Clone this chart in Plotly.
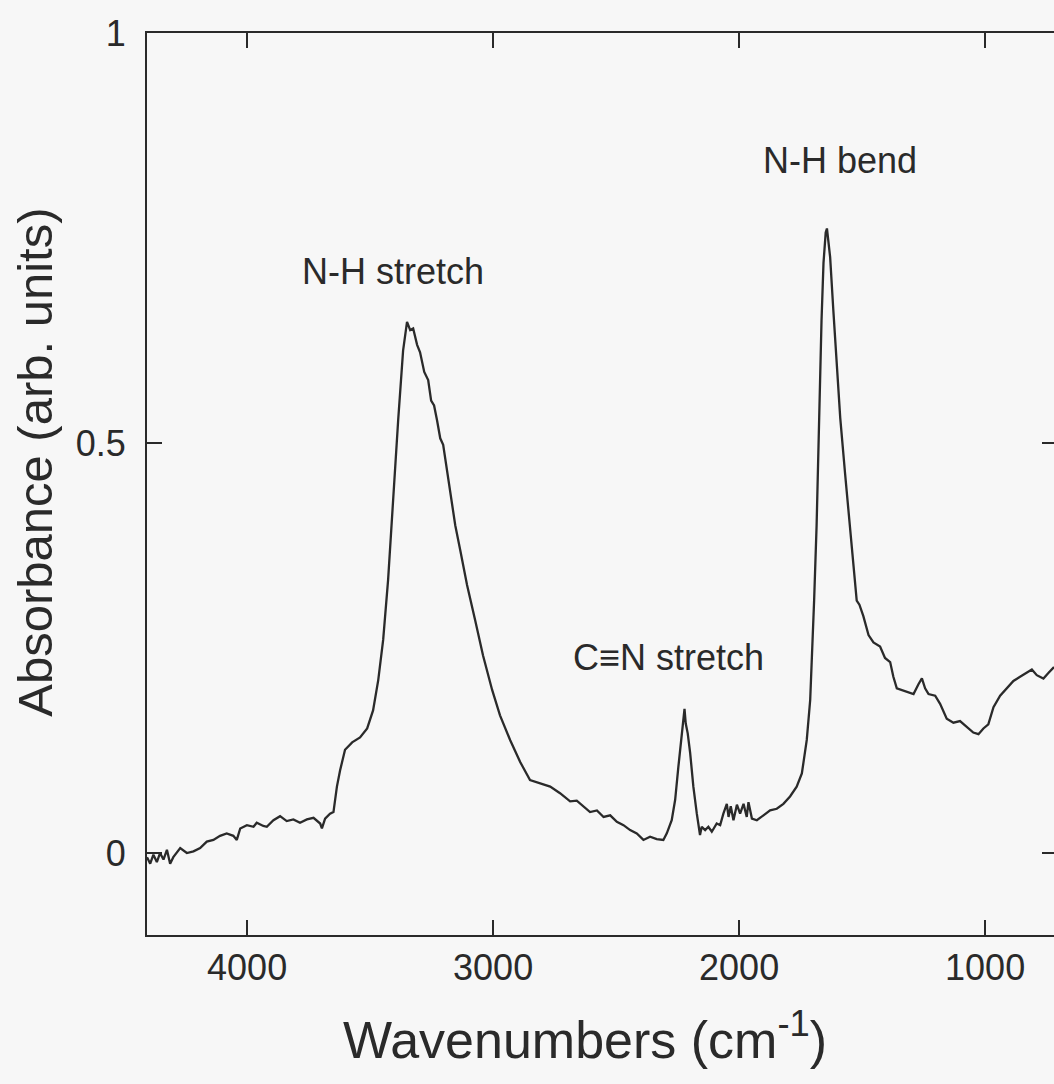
import plotly.graph_objects as go

# Wavenumbers (cm-1), descending
wavenumber = [
    4407, 4394, 4381, 4367, 4354, 4340, 4326, 4313, 4300, 4272, 4245, 4218, 4191,
    4164, 4137, 4110, 4083, 4056, 4042, 4028, 4001, 3974, 3961, 3934, 3920, 3893,
    3866, 3839, 3812, 3785, 3757, 3730, 3703, 3696, 3683, 3663, 3649, 3642, 3635,
    3622, 3602, 3573, 3541, 3512, 3488, 3467, 3447, 3427, 3407, 3386, 3366, 3350,
    3337, 3325, 3309, 3297, 3280, 3264, 3252, 3240, 3228, 3215, 3203, 3191, 3175,
    3154, 3134, 3106, 3073, 3041, 3004, 2972, 2931, 2890, 2850,
    2768, 2728, 2687, 2660, 2633, 2606, 2578, 2551, 2524, 2497, 2470, 2443, 2416,
    2389, 2362, 2335, 2308, 2294, 2274, 2260, 2247, 2236, 2226, 2222, 2217, 2209,
    2199, 2186, 2172, 2159, 2152, 2138, 2125, 2111, 2091, 2077, 2064, 2050, 2043,
    2034, 2023, 2009, 1996, 1982, 1969, 1962, 1948, 1928, 1901, 1874, 1847, 1820,
    1793, 1766, 1745, 1725, 1711, 1702, 1695, 1685, 1675, 1665, 1657, 1648, 1643,
    1637, 1630, 1617, 1603, 1589, 1569, 1549, 1535, 1522, 1511, 1495, 1474, 1454,
    1427, 1407, 1386, 1373, 1359, 1339, 1318, 1291, 1271, 1257, 1244, 1230, 1203,
    1183, 1156, 1129, 1102, 1074, 1048, 1027, 1007, 987, 966, 939, 912, 885, 858,
    831, 810, 790, 763, 742, 720,
]

absorbance = [
    -0.005, -0.013, -0.002, -0.011, 0.000, -0.008, 0.004, -0.013, -0.005, 0.006, 0.000, 0.002, 0.006,
    0.014, 0.016, 0.021, 0.024, 0.021, 0.016, 0.030, 0.034, 0.032, 0.037, 0.033, 0.032, 0.040,
    0.045, 0.039, 0.041, 0.037, 0.041, 0.043, 0.036, 0.030, 0.042, 0.048, 0.050, 0.065, 0.081,
    0.101, 0.126, 0.135, 0.141, 0.152, 0.174, 0.211, 0.260, 0.333, 0.430, 0.528, 0.613, 0.648,
    0.638, 0.640, 0.620, 0.611, 0.587, 0.577, 0.552, 0.546, 0.528, 0.506, 0.498, 0.473, 0.443,
    0.400, 0.370, 0.327, 0.284, 0.241, 0.199, 0.168, 0.138, 0.111, 0.089,
    0.081, 0.073, 0.063, 0.064, 0.057, 0.050, 0.052, 0.044, 0.046, 0.038, 0.034, 0.028, 0.024,
    0.016, 0.020, 0.017, 0.016, 0.024, 0.040, 0.065, 0.105, 0.138, 0.162, 0.176, 0.158, 0.146,
    0.122, 0.081, 0.048, 0.022, 0.032, 0.028, 0.032, 0.026, 0.036, 0.034, 0.048, 0.060, 0.044,
    0.057, 0.040, 0.059, 0.048, 0.060, 0.044, 0.062, 0.042, 0.040, 0.046, 0.052, 0.054, 0.060,
    0.069, 0.081, 0.097, 0.138, 0.187, 0.248, 0.309, 0.400, 0.530, 0.650, 0.720, 0.757, 0.762,
    0.746, 0.727, 0.662, 0.597, 0.531, 0.462, 0.392, 0.345, 0.308, 0.303, 0.289, 0.266, 0.257,
    0.252, 0.238, 0.233, 0.215, 0.201, 0.199, 0.196, 0.194, 0.206, 0.213, 0.201, 0.194, 0.192,
    0.182, 0.164, 0.159, 0.161, 0.154, 0.147, 0.145, 0.152, 0.157, 0.178, 0.192, 0.201, 0.210, 0.215,
    0.220, 0.224, 0.217, 0.213, 0.220, 0.227,
]

x_ticks = [4000, 3000, 2000, 1000]
y_ticks = [0, 0.5, 1]
y_tick_text = ["0", "0.5", "1"]

x_title = "Wavenumbers (cm<sup>-1</sup>)"
y_title = "Absorbance (arb. units)"

peak_labels = ["N-H stretch", "C\u2261N stretch", "N-H bend"]
peak_label_x = [3407, 2289, 1589]
peak_label_y = [0.71, 0.239, 0.845]

INK = "#2a2a2a"
BG = "#f7f7f7"
FONT = "Liberation Sans, Arial, Helvetica, sans-serif"

fig = go.Figure()
fig.add_trace(go.Scatter(
    x=wavenumber, y=absorbance, mode="lines",
    line=dict(color=INK, width=2.3), showlegend=False, hoverinfo="skip",
))
fig.add_trace(go.Scatter(
    x=[None], y=[None], yaxis="y2", mode="lines", showlegend=False, hoverinfo="skip",
))

for t, xx, yy in zip(peak_labels, peak_label_x, peak_label_y):
    fig.add_annotation(x=xx, y=yy, xref="x", yref="y", text=t, showarrow=False,
                       font=dict(size=36, color=INK, family=FONT))

# axis titles placed as annotations for precise positioning
fig.add_annotation(x=0.483, y=-0.112, xref="paper", yref="paper", text=x_title,
                   showarrow=False, xanchor="center", yanchor="middle",
                   font=dict(size=52, color=INK, family=FONT))
fig.add_annotation(x=-0.123, y=0.524, xref="paper", yref="paper", text=y_title,
                   showarrow=False, xanchor="center", yanchor="middle", textangle=-90,
                   font=dict(size=49, color=INK, family=FONT))

fig.update_layout(
    width=1054, height=1084,
    margin=dict(l=147, r=0, t=33, b=149, pad=0),
    paper_bgcolor=BG, plot_bgcolor=BG,
    font=dict(family=FONT, color=INK),
    xaxis=dict(
        range=[4407, 720], tickvals=x_ticks, ticks="inside", ticklen=15, tickwidth=2,
        tickcolor=INK, showline=True, linewidth=2, linecolor=INK, mirror="ticks",
        showgrid=False, zeroline=False, tickfont=dict(size=36, color=INK),
    ),
    yaxis=dict(
        range=[-0.1, 1.0005], tickvals=y_ticks, ticktext=y_tick_text, ticks="inside",
        ticklen=15, tickwidth=2, tickcolor=INK, showline=True, linewidth=2, linecolor=INK,
        mirror=False, showgrid=False, zeroline=False, tickfont=dict(size=36, color=INK),
        ticklabelstandoff=12,
    ),
    yaxis2=dict(
        overlaying="y", side="right", range=[-0.1, 1.0005], tickvals=y_ticks, ticks="inside",
        ticklen=12, tickwidth=2, tickcolor=INK, showline=False, showgrid=False,
        zeroline=False, showticklabels=False,
    ),
)

fig.write_html("out.html")
